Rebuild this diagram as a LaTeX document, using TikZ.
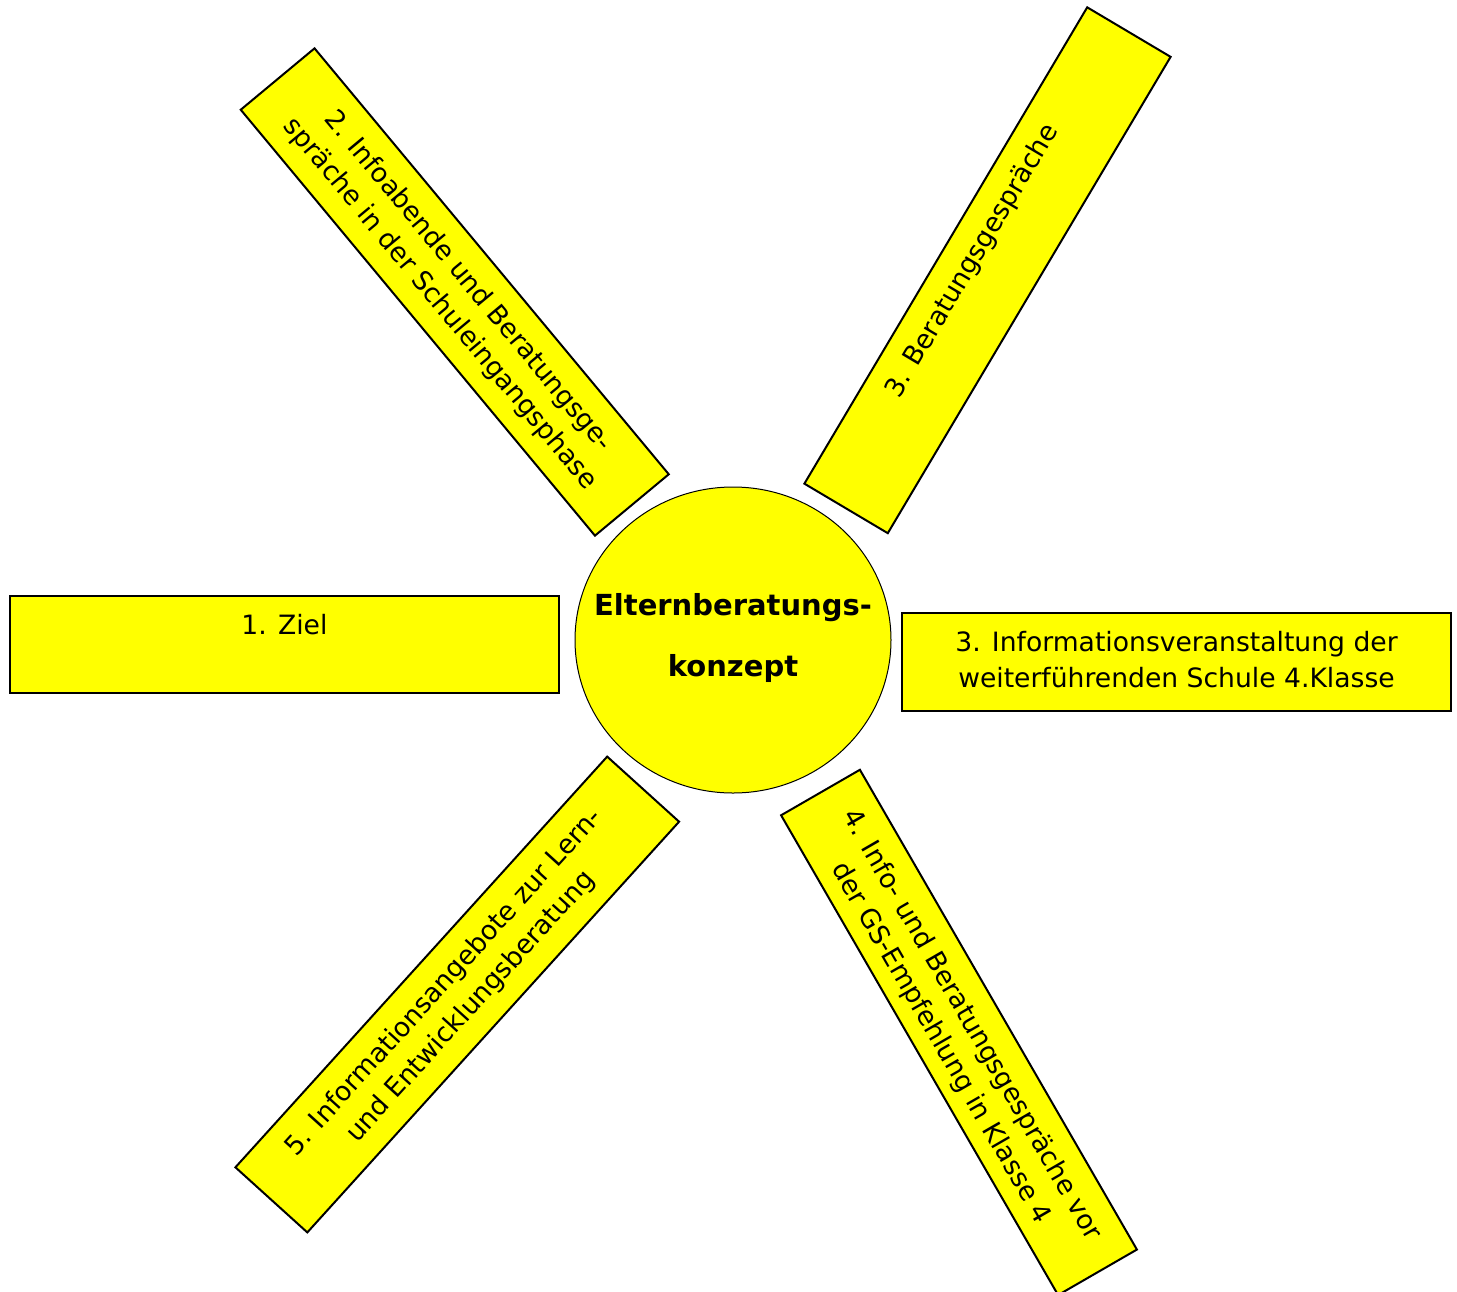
\documentclass[tikz,border=0pt]{standalone}
\usepackage{fontspec}
\setmainfont{DejaVu Sans}
\usetikzlibrary{shapes.geometric,calc}
\definecolor{sunyellow}{RGB}{255,255,0}
\newcommand\boxstrut{\rule{0pt}{10.5pt}}
\begin{document}
\begin{tikzpicture}[x=0.5pt,y=-0.5pt,
  box/.style={draw=black, line width=1pt, fill=sunyellow, rectangle,
    minimum width=274.5pt, minimum height=48.5pt, inner sep=0pt},
  lbl/.style={font=\fontsize{13.3}{18}\selectfont, align=center, inner sep=0pt, anchor=north},
  hub/.style={draw=black, line width=0.5pt, fill=sunyellow, ellipse,
    minimum width=158pt, minimum height=153pt, inner sep=0pt},
  hubtext/.style={font=\fontsize{14.5}{30.5}\selectfont\bfseries, align=center, inner sep=0pt}
]
\useasboundingbox (0,0) rectangle (1457,1291);

% centre
\node[hub] (hub) at (733,640) {};
\node[hubtext] (hubt) at (733,637.5) {Elternberatungs-\\konzept};

% 1. Ziel
\node[box] (z1) at (284.5,644.5) {};
\node[lbl] (z1t) at ($(z1.north)!9pt!(z1.center)$) {\boxstrut 1. Ziel};

% 3. Informationsveranstaltung
\node[box, minimum height=49pt] (i3) at (1176.5,662) {};
\node[lbl] (i3t) at ($(i3.north)!9pt!(i3.center)$)
  {\boxstrut 3. Informationsveranstaltung der\\weiterführenden Schule 4.Klasse};

% 2. Infoabende
\node[box, rotate=-50.25, minimum width=277pt, minimum height=48pt] (s2) at (454.75,292) {};
\node[lbl, rotate=-50.25] (s2t) at ($(s2.north)!9pt!(s2.center)$)
  {\boxstrut 2. Infoabende und Beratungsge-\\spräche in der Schuleingangsphase};

% 3. Beratungsgespraeche
\node[box, rotate=59.3, minimum width=277pt] (b3) at (987.5,270.25) {};
\node[lbl, rotate=59.3] (b3t) at ($(b3.north)!9pt!(b3.center)$)
  {\boxstrut 3. Beratungsgespräche};

% 4. Info- und Beratungsgespraeche
\node[box, rotate=-60, minimum width=277pt, minimum height=45.5pt] (g4) at (959,1032.4) {};
\node[lbl, rotate=-60] (g4t) at ($(g4.north)!9pt!(g4.center)$)
  {\boxstrut 4. Info- und Beratungsgespräche vor\\der GS-Empfehlung in Klasse 4};

% 5. Informationsangebote
\node[box, rotate=47.85, minimum width=277pt] (l5) at (457.25,994.5) {};
\node[lbl, rotate=47.85] (l5t) at ($(l5.north)!9pt!(l5.center)$)
  {\boxstrut 5. Informationsangebote zur Lern-\\und Entwicklungsberatung};
\end{tikzpicture}
\end{document}
